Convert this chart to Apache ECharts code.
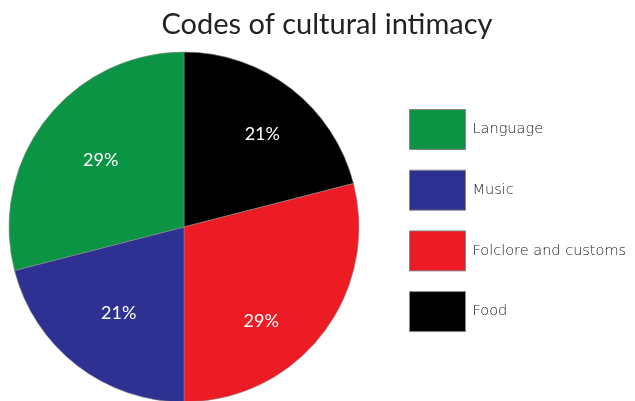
<!DOCTYPE html>
<html>
<head>
<meta charset="utf-8">
<script src="https://cdn.jsdelivr.net/npm/echarts@6/dist/echarts.min.js"></script>
<style>
  html, body { margin: 0; padding: 0; background: #fff; }
  #chart { width: 635px; height: 401px; }
</style>
</head>
<body>
<div id="chart"></div>
<script>
// Slices in clockwise order starting at twelve o'clock
const categories = ['Food', 'Folclore and customs', 'Music', 'Language'];
const shares = [21, 29, 21, 29];
const colors = ['#000000', '#ed1c24', '#2e3192', '#0b9444'];
// Legend lists the categories top to bottom
const legendOrder = ['Language', 'Music', 'Folclore and customs', 'Food'];
// Small nudges for the percentage labels inside each slice
const labelNudges = [[6, 0], [-16, 22], [7, -7], [10, 6]];

const pieData = categories.map((name, i) => ({
  name: name,
  value: shares[i],
  itemStyle: { color: colors[i] }
}));

const chart = echarts.init(document.getElementById('chart'), null, { renderer: 'canvas' });
chart.setOption({
  animation: false,
  title: {
    text: 'Codes of cultural intimacy',
    left: 322,
    top: 5,
    textAlign: 'center',
    textStyle: { fontFamily: 'Lato', fontSize: 29, fontWeight: 'normal', color: '#222' }
  },
  legend: {
    data: legendOrder,
    orient: 'vertical',
    left: 409,
    top: 109,
    padding: 0,
    itemWidth: 56,
    itemHeight: 40,
    itemGap: 19.7,
    icon: 'rect',
    selectedMode: false,
    itemStyle: { borderColor: '#888', borderWidth: 1 },
    textStyle: { fontFamily: 'DejaVu Sans', fontWeight: 200, fontSize: 14.5, color: '#1a1a1a', padding: [0, 0, 0, 2] }
  },
  series: [
    {
      type: 'pie',
      center: [184, 227],
      radius: [0, 175],
      startAngle: 90,
      clockwise: true,
      data: pieData,
      label: { show: false },
      labelLine: { show: false },
      itemStyle: { borderColor: '#8a8a8a', borderWidth: 0.6 },
      emphasis: { disabled: true }
    },
    {
      // Transparent ring that only carries the percentage labels
      type: 'pie',
      center: [184, 227],
      radius: [55, 175],
      startAngle: 90,
      clockwise: true,
      silent: true,
      data: pieData.map((d, i) => ({
        name: d.name,
        value: d.value,
        itemStyle: { color: 'rgba(0,0,0,0)' },
        label: { offset: labelNudges[i] }
      })),
      itemStyle: { borderWidth: 0 },
      label: {
        show: true,
        position: 'inside',
        formatter: '{c}%',
        fontFamily: 'Lato',
        fontSize: 18,
        color: '#fff'
      },
      labelLine: { show: false },
      emphasis: { disabled: true }
    }
  ]
});
</script>
</body>
</html>
